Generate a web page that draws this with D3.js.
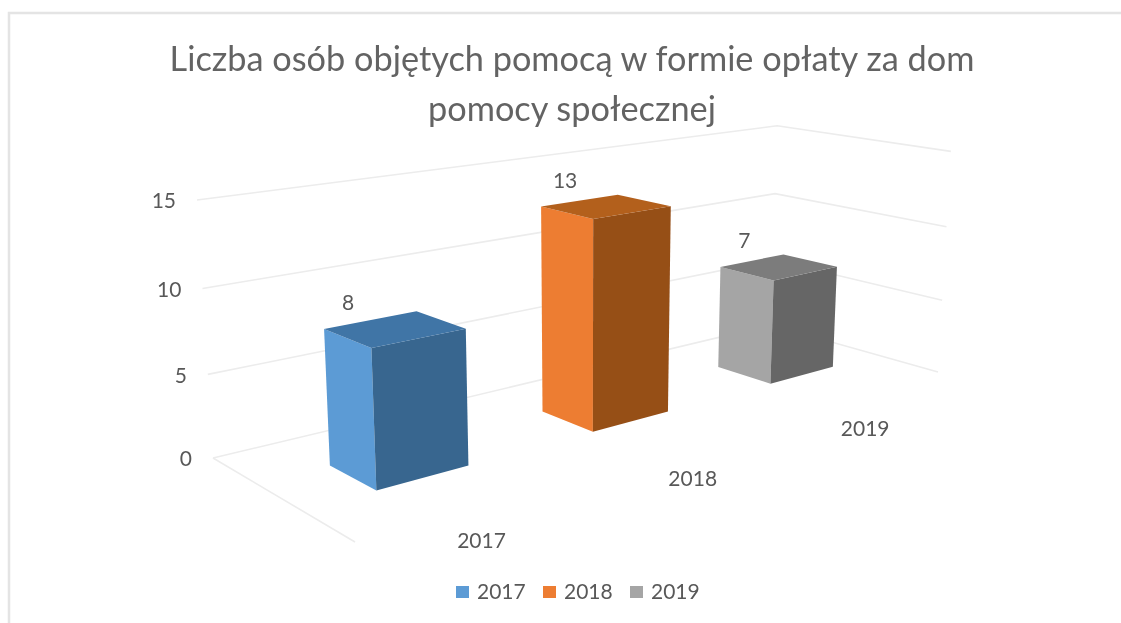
<!DOCTYPE html>
<html><head><meta charset="utf-8">
<script src="https://cdn.jsdelivr.net/npm/d3@7/dist/d3.min.js"></script>
<style>html,body{margin:0;padding:0;background:#fff;overflow:hidden}</style>
</head><body><svg id="c" width="1121" height="623"></svg>
<script>
const titleLines = ["Liczba osób objętych pomocą w formie opłaty za dom", "pomocy społecznej"];
const years = ["2017", "2018", "2019"];
const values = [8, 13, 7];
const ticks = [0, 5, 10, 15];
const frontColors = ["#5b9bd5", "#ed7d31", "#a5a5a5"];
const sideColors = ["#38668f", "#964f18", "#666666"];
const topColors = ["#3f74a6", "#b3601f", "#7c7c7c"];

const FONT = "Lato, 'Open Sans', sans-serif";
const TXT = "#595959";

// perspective frame of the 3D plot (floor corners and vertical vanishing point)
const A = [213, 458], B = [771, 325], C = [938, 372], D = [355, 542], V = [584, 6447];
const det = (p, q) => p[0] * q[1] - p[1] * q[0];
const dx1 = [B[0] - C[0], B[1] - C[1]], dx2 = [D[0] - C[0], D[1] - C[1]];
const sum = [A[0] - B[0] + C[0] - D[0], A[1] - B[1] + C[1] - D[1]];
const g = det(sum, dx2) / det(dx1, dx2), h = det(dx1, sum) / det(dx1, dx2);
const lift = d3.scaleLinear().domain([0, 15]).range([0, -0.0413]);
function project(u, v, val) {
  const w = 1 + g * u + h * v;
  const X = (1 + g) * B[0] * u - A[0] * u + (1 + h) * D[0] * v - A[0] * v + A[0];
  const Y = (1 + g) * B[1] * u - A[1] * u + (1 + h) * D[1] * v - A[1] * v + A[1];
  const t = lift(val);
  return [(X + t * V[0]) / (w + t), (Y + t * V[1]) / (w + t)];
}
const uScale = d3.scaleBand().domain(years).range([0, 1]).paddingInner(0.6).paddingOuter(0.3);
const vScale = d3.scaleBand().domain(["seria"]).range([0, 1]).paddingInner(0).paddingOuter(1.08);

const svg = d3.select("#c");
const defs = svg.append("defs");
defs.append("filter").attr("id", "soft").attr("x", "-2%").attr("y", "-2%").attr("width", "104%").attr("height", "104%")
  .append("feGaussianBlur").attr("stdDeviation", 0.5);
const root = svg.append("g").attr("filter", "url(#soft)");
root.append("rect").attr("width", 1121).attr("height", 623).attr("fill", "#fff");

// picture border
root.append("path").attr("d", d3.line()([[9, 623], [9, 13], [1121, 13]]))
  .attr("fill", "none").attr("stroke", "#e4e4e4").attr("stroke-width", 2.5);

// title
root.selectAll(".title").data(titleLines).join("text").attr("class", "title")
  .attr("x", 572).attr("y", (d, i) => 71 + i * 50)
  .attr("text-anchor", "middle").attr("font-family", FONT).attr("font-size", 34.3)
  .attr("fill", "#646464").text(d => d);

// gridlines along the walls
const line = d3.line();
root.selectAll(".grid").data(ticks).join("path").attr("class", "grid")
  .attr("d", t => line([project(0, 0, t), project(1, 0, t), project(1, 1, t)]))
  .attr("fill", "none").attr("stroke", "#ececec").attr("stroke-width", 1.6);
root.append("path").attr("d", line([project(0, 0, 0), project(0, 1, 0)]))
  .attr("fill", "none").attr("stroke", "#ececec").attr("stroke-width", 1.6);

// value axis labels
root.selectAll(".tick").data(ticks).join("text").attr("class", "tick")
  .attr("x", t => project(0, 0, t)[0] - 21).attr("y", t => project(0, 0, t)[1] + 1)
  .attr("dy", "0.35em").attr("text-anchor", "end").attr("font-family", FONT)
  .attr("font-size", 21).attr("fill", TXT).text(t => t);

// bars
const bars = years.map((y, i) => ({ y, i, val: values[i], u0: uScale(y), u1: uScale(y) + uScale.bandwidth(),
  v0: vScale("seria"), v1: vScale("seria") + vScale.bandwidth() }));
const barG = root.selectAll(".bar").data(bars).join("g").attr("class", "bar");
const poly = pts => line(pts) + "Z";
barG.append("path").attr("fill", d => frontColors[d.i])
  .attr("d", d => poly([project(d.u0, d.v0, d.val), project(d.u0, d.v1, d.val), project(d.u0, d.v1, 0), project(d.u0, d.v0, 0)]));
barG.append("path").attr("fill", d => sideColors[d.i])
  .attr("d", d => poly([project(d.u0, d.v1, d.val), project(d.u1, d.v1, d.val), project(d.u1, d.v1, 0), project(d.u0, d.v1, 0)]));
barG.append("path").attr("fill", d => topColors[d.i])
  .attr("d", d => poly([project(d.u0, d.v0, d.val), project(d.u1, d.v0, d.val), project(d.u1, d.v1, d.val), project(d.u0, d.v1, d.val)]));

// data labels
root.selectAll(".val").data(bars).join("text").attr("class", "val")
  .attr("x", d => project(d.u0, d.v0, d.val)[0] + 24).attr("y", d => project(d.u0, d.v0, d.val)[1] - 26)
  .attr("dy", "0.35em").attr("text-anchor", "middle").attr("font-family", FONT)
  .attr("font-size", 21).attr("fill", TXT).text(d => d.val);

// category labels
root.selectAll(".cat").data(bars).join("text").attr("class", "cat")
  .attr("x", d => project((d.u0 + d.u1) / 2, 1, 0)[0] + 2).attr("y", d => project((d.u0 + d.u1) / 2, 1, 0)[1] + 35)
  .attr("dy", "0.35em").attr("text-anchor", "middle").attr("font-family", FONT)
  .attr("font-size", 21).attr("fill", TXT).text(d => d.y);

// legend
const legX = d3.scalePoint().domain(years).range([456, 630]);
const leg = root.selectAll(".leg").data(years).join("g").attr("class", "leg")
  .attr("transform", y => `translate(${legX(y)},586)`);
leg.append("rect").attr("width", 13).attr("height", 12).attr("fill", (y, i) => frontColors[i]);
leg.append("text").attr("x", 21).attr("y", 6).attr("dy", "0.35em").attr("font-family", FONT)
  .attr("font-size", 21).attr("fill", TXT).text(y => y);
</script></body></html>
